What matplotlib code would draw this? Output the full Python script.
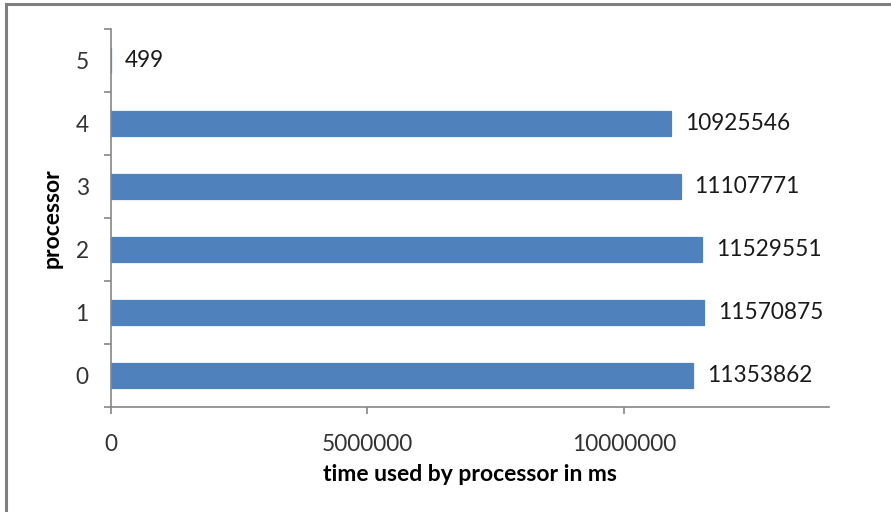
import numpy as np
import matplotlib
matplotlib.use("Agg")
import matplotlib.pyplot as plt
from matplotlib.patches import Rectangle

processors = ["0", "1", "2", "3", "4", "5"]
time_ms = [11353862, 11570875, 11529551, 11107771, 10925546, 499]
x_ticks = [0, 5000000, 10000000]

plt.rcParams['font.family'] = ['Lato', 'DejaVu Sans']

fig = plt.figure(figsize=(8.91, 5.12), dpi=100)
ax = fig.add_axes([111 / 891, 1 - 406.7 / 512, (829 - 111) / 891, (406.7 - 29) / 512])

# chart frame like the excel export
fig.patches.append(Rectangle((6 / 891, -0.1), 1.2, 1.1 - 4 / 512, transform=fig.transFigure,
                             fill=False, edgecolor='#7f7f7f', linewidth=2.2))

y = np.arange(len(processors))
ax.barh(y, time_ms, height=0.4, color='#4f81bd', edgecolor='#4f81bd', linewidth=0.9)

for yi, v in zip(y, time_ms):
    ax.annotate(str(v), (v, yi), xytext=(10, 0), textcoords='offset points',
                va='center', ha='left', fontsize=16.3, color='#1a1a1a')

ax.set_xlim(0, 14000000)
ax.set_ylim(-0.5, len(processors) - 0.5)
ax.set_xticks(x_ticks)
ax.set_xticklabels([str(t) for t in x_ticks])
ax.set_yticks(y)
ax.set_yticklabels(processors)
ax.set_yticks(np.arange(-0.5, len(processors)), minor=True)

for side in ['top', 'right']:
    ax.spines[side].set_visible(False)
for side in ['left', 'bottom']:
    ax.spines[side].set_color('#868686')
    ax.spines[side].set_linewidth(1.2)

ax.tick_params(axis='y', which='major', length=0, pad=16, labelsize=16.3, labelcolor='#333333')
ax.tick_params(axis='y', which='minor', length=5, color='#868686', width=1.2)
ax.tick_params(axis='x', which='major', length=5, color='#868686', width=1.2, pad=15,
               labelsize=16.3, labelcolor='#333333')

ax.set_xlabel('time used by processor in ms', fontsize=16.5, fontweight='bold', labelpad=6)
ax.set_ylabel('processor', fontsize=16.5, fontweight='bold', labelpad=9)

fig.savefig('out.png', dpi=100)
